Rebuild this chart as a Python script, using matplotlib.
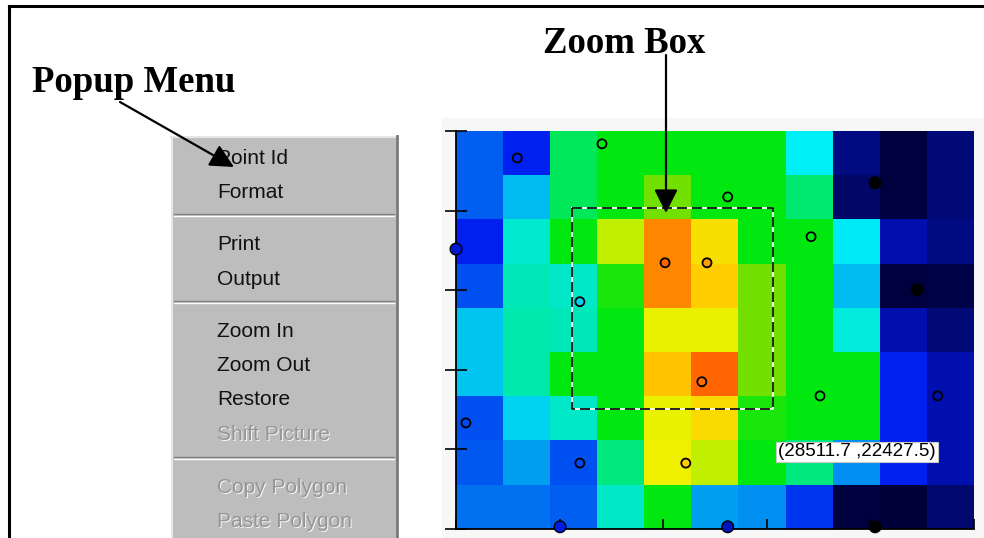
import numpy as np
import matplotlib
matplotlib.use("Agg")
import matplotlib.pyplot as plt
from matplotlib.colors import LinearSegmentedColormap
from matplotlib.patches import Rectangle

# grid values (top row first), 9 rows x 11 columns
grid_values = [
    [0.28, 0.20, 0.58, 0.62, 0.62, 0.62, 0.62, 0.46, 0.09, 0.01, 0.08],
    [0.28, 0.39, 0.58, 0.62, 0.70, 0.62, 0.62, 0.57, 0.06, 0.01, 0.08],
    [0.20, 0.50, 0.62, 0.76, 0.94, 0.85, 0.62, 0.62, 0.45, 0.14, 0.09],
    [0.26, 0.52, 0.51, 0.64, 0.94, 0.88, 0.70, 0.62, 0.39, 0.01, 0.02],
    [0.40, 0.53, 0.52, 0.62, 0.81, 0.81, 0.70, 0.62, 0.49, 0.14, 0.08],
    [0.40, 0.53, 0.62, 0.62, 0.89, 0.99, 0.70, 0.62, 0.62, 0.20, 0.14],
    [0.26, 0.42, 0.51, 0.62, 0.81, 0.86, 0.64, 0.62, 0.62, 0.20, 0.14],
    [0.27, 0.35, 0.26, 0.56, 0.82, 0.76, 0.62, 0.56, 0.33, 0.20, 0.14],
    [0.30, 0.30, 0.28, 0.51, 0.62, 0.35, 0.33, 0.23, 0.01, 0.00, 0.07],
]

# sample points inside the grid (cell units)
pt_x = [1.30, 3.10, 5.77, 4.44, 5.33, 2.63, 7.54, 5.22, 7.73, 10.23, 0.21, 2.63, 4.88]
pt_y = [8.39, 8.71, 7.51, 6.02, 6.02, 5.14, 6.61, 3.33, 3.01, 3.01, 2.40, 1.49, 1.49]
pt_val = [0.20, 0.62, 0.62, 1.00, 0.92, 0.42, 0.62, 0.98, 0.62, 0.14, 0.25, 0.25, 0.88]

# filled points (on the border or below the colour range)
edge_x = [0.0, 2.21, 5.77, 8.90, 8.90, 9.79]
edge_y = [6.33, 0.05, 0.05, 0.05, 7.83, 5.41]
edge_val = [0.17, 0.19, 0.15, -1.0, -1.0, -1.0]

# zoom box (cell units)
zoom_x = [2.46, 6.73]
zoom_y = [2.71, 7.26]

menu_items = ["Point Id", "Format", "Print", "Output", "Zoom In", "Zoom Out",
              "Restore", "Shift Picture", "Copy Polygon", "Paste Polygon"]
menu_enabled = [True, True, True, True, True, True, True, False, False, False]
menu_baselines = [164, 198, 250, 285, 337, 371, 405, 440, 493, 527]
menu_separators = [214, 301, 457]

coord_label = "(28511.7 ,22427.5)"

cmap = LinearSegmentedColormap.from_list("surf", [
    (0.00, "#000038"), (0.08, "#000a78"), (0.14, "#0010b0"), (0.20, "#0020f0"),
    (0.27, "#0058f0"), (0.34, "#0098f0"), (0.40, "#00c4f0"), (0.46, "#00f0f8"),
    (0.51, "#00e8c8"), (0.56, "#00e880"), (0.62, "#00e810"), (0.70, "#70e000"),
    (0.76, "#c0f000"), (0.82, "#f0f000"), (0.88, "#ffd000"), (0.94, "#ff8800"),
    (1.00, "#ff6000")])
cmap.set_under("black")

W, H = 984, 538
fig = plt.figure(figsize=(W / 100, H / 100), dpi=100)
fig.patch.set_facecolor("white")

# background layer (pixel coords)
bg = fig.add_axes([0, 0, 1, 1], zorder=0)
bg.set_xlim(0, W)
bg.set_ylim(H, 0)
bg.axis("off")

# plot panel
bg.add_patch(Rectangle((442, 118), W - 442, H - 118, facecolor="#f7f7f7", edgecolor="none"))

# popup menu
bg.add_patch(Rectangle((171, 136), 227, H - 136, facecolor="#bdbdbd", edgecolor="none"))
bg.plot([171, 396], [137, 137], color="#e6e6e6", lw=1.5)
bg.plot([172, 172], [137, H], color="#e6e6e6", lw=1.5)
bg.plot([396.5, 396.5], [136, H], color="#7a7a7a", lw=2)
for sy in menu_separators:
    bg.plot([174, 394], [sy, sy], color="#808080", lw=1)
    bg.plot([174, 394], [sy + 1.5, sy + 1.5], color="white", lw=1)
for label, ok, by in zip(menu_items, menu_enabled, menu_baselines):
    if ok:
        bg.text(217, by, label, fontsize=15, family="Liberation Sans",
                color="#111111", va="baseline", ha="left")
    else:
        bg.text(218, by + 1, label, fontsize=15, family="Liberation Sans",
                color="#f4f4f4", va="baseline", ha="left")
        bg.text(217, by, label, fontsize=15, family="Liberation Sans",
                color="#959595", va="baseline", ha="left")

# heatmap
ax = fig.add_axes([456 / W, 9 / H, 518 / W, 398 / H], zorder=1)
ax.imshow(np.array(grid_values), cmap=cmap, vmin=0, vmax=1, origin="upper",
          extent=(0, 11, 0, 9), aspect="auto", interpolation="nearest")
ax.set_xlim(0, 11)
ax.set_ylim(0, 9)
ax.set_xticks(np.linspace(0, 11, 6))
ax.set_yticks(np.linspace(0, 9, 6))
ax.set_xticklabels([])
ax.set_yticklabels([])
ax.tick_params(axis="y", direction="inout", length=16, width=1.2)
ax.tick_params(axis="x", direction="in", length=7, width=1.2)
for s in ["top", "right"]:
    ax.spines[s].set_visible(False)
for s in ["left", "bottom"]:
    ax.spines[s].set_linewidth(1.3)

# zoom box: white line under black dashes
bx = [zoom_x[0], zoom_x[1], zoom_x[1], zoom_x[0], zoom_x[0]]
by_ = [zoom_y[1], zoom_y[1], zoom_y[0], zoom_y[0], zoom_y[1]]
ax.plot(bx, by_, color="white", lw=1.2, zorder=3)
ax.plot(bx, by_, color="black", lw=1.2, linestyle=(0, (6, 3)), zorder=4)

ax.scatter(pt_x, pt_y, c=pt_val, cmap=cmap, vmin=0, vmax=1, s=42,
           edgecolors="black", linewidths=1.3, zorder=5)
ax.scatter(edge_x, edge_y, c=edge_val, cmap=cmap, vmin=0, vmax=1, s=70,
           edgecolors="black", linewidths=1.0, zorder=5, clip_on=False)

# foreground layer
fg = fig.add_axes([0, 0, 1, 1], zorder=2)
fg.set_xlim(0, W)
fg.set_ylim(H, 0)
fg.axis("off")
fg.patch.set_alpha(0)

# outer frame
fg.plot([9, 9], [H, 6], color="black", lw=2.2, solid_capstyle="projecting")
fg.plot([9, W], [6, 6], color="black", lw=2.2, solid_capstyle="projecting")

fg.text(32, 92, "Popup Menu", fontsize=26.5, family="Liberation Serif",
        fontweight="bold", va="baseline", ha="left")
fg.text(624, 53, "Zoom Box", fontsize=26.5, family="Liberation Serif",
        fontweight="bold", va="baseline", ha="center")

arrow = dict(arrowstyle="-|>,head_length=0.4,head_width=0.2", mutation_scale=36,
             lw=1.6, color="black", shrinkA=0, shrinkB=0)
fg.annotate("", xy=(234, 167), xytext=(120, 102), arrowprops=arrow)
fg.annotate("", xy=(666, 213), xytext=(666, 55), arrowprops=arrow)

fg.text(778, 452, coord_label, fontsize=13.5, family="Liberation Sans",
        va="center", ha="left",
        bbox=dict(boxstyle="square,pad=0.1", facecolor="white", edgecolor="#c8c8c8", lw=0.8))

plt.savefig("out.png", dpi=100)
